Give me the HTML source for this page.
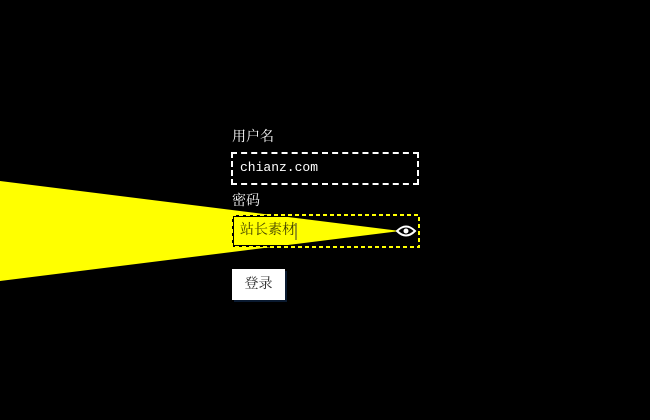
<!DOCTYPE html>
<html><head><meta charset="utf-8"><style>
body{margin:0;width:650px;height:420px;background:#000;position:relative;overflow:hidden;font-family:"Liberation Serif","Noto Serif CJK SC",serif}
.a{position:absolute}
</style></head><body>
<div class="a" style="left:232px;top:130px;color:#fff;font-size:14px;line-height:16px">用户名</div>
<div class="a" style="left:231px;top:152px;width:184px;height:29px;border:2px dashed #fff"></div>
<div class="a" style="left:240px;top:160px;color:#fff;font-family:'Liberation Mono','Noto Sans CJK SC',monospace;font-size:13px;line-height:16px">chianz.com</div>
<div class="a" style="left:232px;top:194px;color:#fff;font-size:14px;line-height:16px">密码</div>
<svg class="a" style="left:0;top:0" width="650" height="420">
<polygon points="0,181 400,231 0,281" fill="#ff0"/>
<rect x="233" y="216" width="180" height="30" fill="none" stroke="#000" stroke-width="2"/>
<rect x="232" y="215" width="187" height="32" fill="none" stroke="#ff0" stroke-width="2" stroke-dasharray="4,3"/>
<path d="M397,231 Q406,222 415,231 Q406,240 397,231Z" fill="none" stroke="#fff" stroke-width="2"/>
<circle cx="406" cy="231" r="2.5" fill="#fff"/>
<line x1="296" y1="223" x2="296" y2="240" stroke="#333" stroke-width="1"/>
</svg>
<div class="a" style="left:240px;top:223px;color:#404000;font-size:14px;line-height:16px">站长素材</div>
<div class="a" style="left:232px;top:269px;width:53px;height:31px;background:#fff;box-shadow:2px 2px 0 #0a1a30;color:#222;font-size:14px;line-height:31px;text-align:center">登录</div>
</body></html>
